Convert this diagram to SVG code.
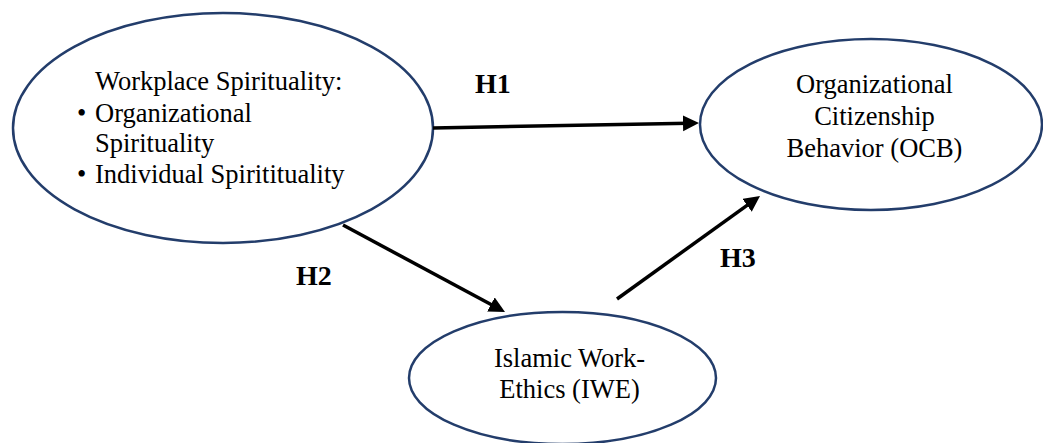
<svg xmlns="http://www.w3.org/2000/svg" width="1043" height="443" viewBox="0 0 1043 443">
  <style>
    .node { fill: #ffffff; stroke: #233d6b; stroke-width: 2.5; }
    .t { font-family: 'Liberation Serif', 'Times New Roman', Times, 'DejaVu Serif', serif; font-size: 26.5px; fill: #000000; }
    .h { font-family: 'Liberation Serif', 'Times New Roman', Times, 'DejaVu Serif', serif; font-size: 28px; font-weight: bold; fill: #000000; }
    .edge { stroke: #000000; stroke-width: 3.5; fill: none; }
  </style>
  <defs>
    <marker id="arrow" markerUnits="userSpaceOnUse" markerWidth="17" markerHeight="17" refX="6" refY="8" orient="auto">
      <path d="M0,0 L16,8 L0,16 z" fill="#000000"/>
    </marker>
  </defs>
  <rect width="1043" height="443" fill="#ffffff"/>

  <g id="node-ws">
    <ellipse class="node" cx="223" cy="128" rx="210" ry="115"/>
    <text class="t" x="95" y="90">Workplace Spirituality:</text>
    <text class="t" x="77" y="122">•</text>
    <text class="t" x="95" y="122">Organizational</text>
    <text class="t" x="95" y="152">Spirituality</text>
    <text class="t" x="77" y="183">•</text>
    <text class="t" x="95" y="183">Individual Spiritituality</text>
  </g>

  <g id="node-ocb">
    <ellipse class="node" cx="871" cy="124.5" rx="171" ry="85.5"/>
    <text class="t" text-anchor="middle" x="874.5" y="93">Organizational</text>
    <text class="t" text-anchor="middle" x="874.5" y="125">Citizenship</text>
    <text class="t" text-anchor="middle" x="874.5" y="157">Behavior (OCB)</text>
  </g>

  <g id="node-iwe">
    <ellipse class="node" cx="562.5" cy="378" rx="153.5" ry="66"/>
    <text class="t" text-anchor="middle" x="569.5" y="367">Islamic Work-</text>
    <text class="t" text-anchor="middle" x="569.5" y="398">Ethics (IWE)</text>
  </g>

  <g id="connectors">
    <path class="edge" d="M433,128 L689,123.2" marker-end="url(#arrow)"/>
    <path class="edge" d="M343,225 L496.2,307.3" marker-end="url(#arrow)"/>
    <path class="edge" d="M617,299 L751.9,201.8" marker-end="url(#arrow)"/>
    <text class="h" x="475" y="93">H1</text>
    <text class="h" x="296" y="285">H2</text>
    <text class="h" x="720" y="267">H3</text>
  </g>
</svg>
